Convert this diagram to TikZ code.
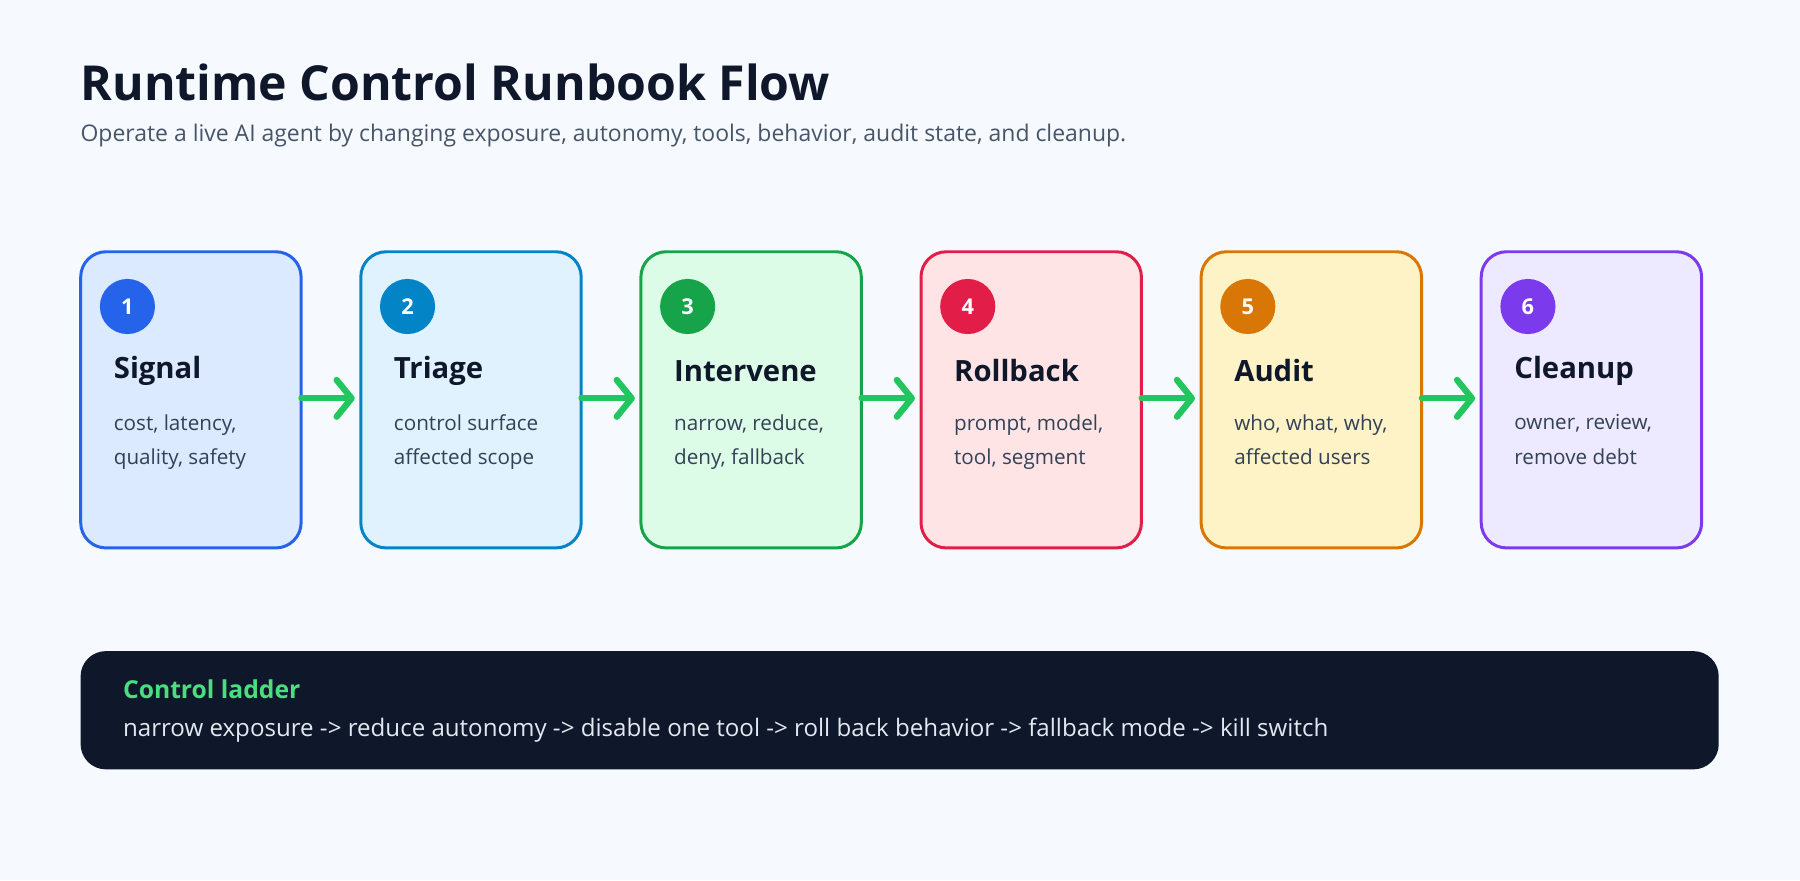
\documentclass[tikz,border=0pt]{standalone}
\usepackage{fontspec}
\setmainfont{Open Sans}
\usetikzlibrary{arrows.meta}
\definecolor{bg}{HTML}{F6F9FE}
\definecolor{ink}{HTML}{0F172A}
\definecolor{sub}{HTML}{475569}
\definecolor{body}{HTML}{334155}
\definecolor{arr}{HTML}{22C55E}
\definecolor{cA}{HTML}{2563EB}\definecolor{fA}{HTML}{DBEAFE}
\definecolor{cB}{HTML}{0284C7}\definecolor{fB}{HTML}{E0F2FE}
\definecolor{cC}{HTML}{16A34A}\definecolor{fC}{HTML}{DCFCE7}
\definecolor{cD}{HTML}{E11D48}\definecolor{fD}{HTML}{FFE4E6}
\definecolor{cE}{HTML}{D97706}\definecolor{fE}{HTML}{FEF3C7}
\definecolor{cF}{HTML}{7C3AED}\definecolor{fF}{HTML}{EDE9FE}
\definecolor{lad}{HTML}{4ADE80}
\definecolor{ladtxt}{HTML}{E2E8F0}
\tikzset{
 card/.style={draw=#1,line width=2.6pt,rounded corners=22pt,minimum width=192pt,minimum height=258pt,inner sep=0pt},
 badge/.style={circle,fill=#1,minimum size=48pt,inner sep=0pt,text=white,font=\fontsize{19}{19}\selectfont\bfseries},
 head/.style={anchor=west,text=ink,inner sep=0pt,font=\fontsize{25.5}{25}\selectfont\bfseries},
 txt/.style={anchor=north west,text=body,align=left,font=\fontsize{18}{30}\selectfont,inner sep=0pt},
 flow/.style={draw=arr,line width=5.5pt,line cap=round,-{Straight Barb[length=13pt,width=32pt,line cap=round,line join=round]}}
}
\begin{document}
\begin{tikzpicture}[x=1pt,y=-1pt]
\fill[bg] (0,0) rectangle (1568,767);
\useasboundingbox (0,0) rectangle (1568,767);
\node[anchor=west,text=ink,font=\fontsize{42}{42}\selectfont\bfseries,inner sep=0pt] (title) at (70,72) {Runtime Control Runbook Flow};
\node[anchor=west,text=sub,font=\fontsize{20}{20}\selectfont,inner sep=0pt] (subt) at (70,118) {Operate a live AI agent by changing exposure, autonomy, tools, behavior, audit state, and cleanup.};
\foreach \i/\c/\f/\h/\a/\b [count=\k] in {
 1/cA/fA/Signal/{cost, latency,}/{quality, safety},
 2/cB/fB/Triage/{control surface}/{affected scope},
 3/cC/fC/Intervene/{narrow, reduce,}/{deny, fallback},
 4/cD/fD/Rollback/{prompt, model,}/{tool, segment},
 5/cE/fE/Audit/{who, what, why,}/{affected users},
 6/cF/fF/Cleanup/{owner, review,}/{remove debt}}{
 \pgfmathsetmacro\xx{69+(\k-1)*244}
 \node[card=\c,fill=\f,anchor=north west] (card\k) at (\xx,218) {};
 \node[badge=\c] (badge\k) at (\xx+42,267) {\i};
 \node[head] (head\k) at (\xx+30,323) {\h};
 \node[txt] (txt\k) at (\xx+30,361) {\a\\\b};
}
\foreach \k [evaluate=\k as \n using int(\k+1)] in {1,...,5}{
 \draw[flow] ([xshift=-1pt,yshift=-129pt]card\k.north east) -- ([xshift=-4pt,yshift=-129pt]card\n.north west);
}
\node[fill=ink,rounded corners=22pt,minimum width=1427pt,minimum height=103pt,anchor=north west,inner sep=0pt] (ladder) at (70,567) {};
\node[anchor=west,text=lad,font=\fontsize{21.5}{21}\selectfont\bfseries,inner sep=0pt] (ladh) at (107,600) {Control ladder};
\node[anchor=west,text=ladtxt,font=\fontsize{21}{21}\selectfont,inner sep=0pt] (ladt) at (107,636) {narrow exposure -> reduce autonomy -> disable one tool -> roll back behavior -> fallback mode -> kill switch};
\end{tikzpicture}
\end{document}
